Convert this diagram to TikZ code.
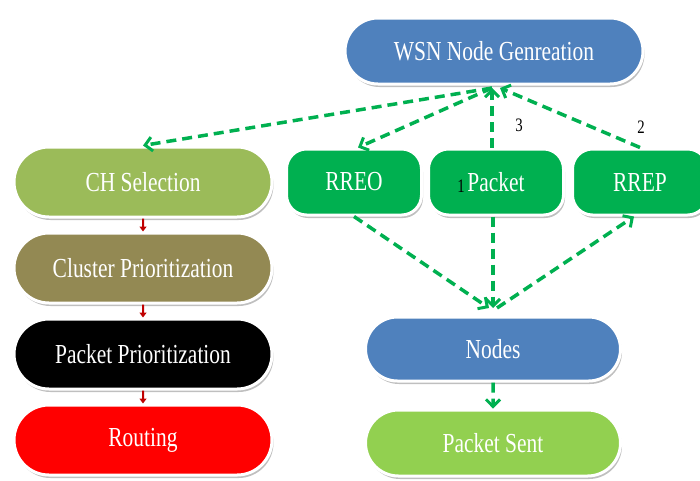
\documentclass[tikz,border=0pt]{standalone}
\usepackage{fontspec}
\setmainfont{Liberation Serif}[FakeStretch=0.78]
\usepackage{tikz}
\usetikzlibrary{shapes.misc,shadows,arrows.meta,positioning}

\definecolor{wsnblue}{HTML}{4F81BD}
\definecolor{rgreen}{HTML}{00B050}
\definecolor{chgreen}{HTML}{9BBB59}
\definecolor{clolive}{HTML}{938953}
\definecolor{sentgreen}{HTML}{92D050}
\definecolor{linkred}{HTML}{C00000}

\begin{document}
\begin{tikzpicture}[x=1pt, y=-1pt,
  pill/.style={rounded rectangle, draw=white, line width=3pt,
    text=white, minimum height=66pt, inner sep=0pt,
    font=\fontsize{27.5}{30}\selectfont,
    drop shadow={shadow xshift=1.5pt, shadow yshift=-3pt, fill=black, opacity=0.25}},
  rbox/.style={rectangle, rounded corners=20pt, draw=white, line width=3pt,
    fill=rgreen, text=white, minimum width=135pt, minimum height=66pt,
    font=\fontsize{27.5}{30}\selectfont,
    drop shadow={shadow xshift=1.5pt, shadow yshift=-3pt, fill=black, opacity=0.25}},
  flow/.style={draw=rgreen, line width=3.5pt, dash pattern=on 10pt off 6pt,
    -{Straight Barb[length=7pt,width=14pt,line width=3pt]}},
  redlink/.style={draw=linkred, line width=2pt, -{Triangle[length=5pt,width=7pt]}},
  num/.style={font=\fontsize{19}{20}\selectfont, text=black},
  node distance=13pt]

\useasboundingbox (0,0) rectangle (700,480);

% top and right part
\node[pill, fill=wsnblue, minimum width=298pt] (wsn) at (494,51) {WSN Node Genreation};
\node[rbox] (rreo) at (354,182) {RREO};
\node[rbox] (packet) at (496,182) {Packet};
\node[rbox] (rrep) at (640,182) {RREP};
\node[pill, fill=wsnblue, minimum width=255pt, minimum height=64pt] (nodes) at (493,349) {Nodes};
\node[pill, fill=sentgreen, minimum width=255pt] (sent) at (493,443) {Packet Sent};

% left column
\node[pill, fill=chgreen, minimum width=258pt, minimum height=70pt] (ch) at (143,182) {CH Selection};
\node[pill, fill=clolive, minimum width=258pt, minimum height=70pt] (cluster) [below = of ch] {Cluster Prioritization};
\node[pill, fill=black, minimum width=258pt, minimum height=70pt] (pprio) [below = of cluster] {Packet Prioritization};
\node[pill, fill=red, minimum width=258pt, minimum height=70pt] (routing) [below = of pprio] {Routing};

\draw[redlink] (ch) -- (cluster);
\draw[redlink] (cluster) -- (pprio);
\draw[redlink] (pprio) -- (routing);

% dashed links
\coordinate (hub) at (492,88);
\coordinate (ntop) at (493,308);
\draw[flow] (hub) -- (ch.north);
\draw[flow] (hub) -- ([xshift=4pt]rreo.north);
\draw[flow] (packet.north -| hub) -- (hub);
\draw[flow] (rrep.north) -- ([xshift=8pt]hub);
\draw[flow] (rreo.south) -- ([xshift=-4pt]ntop);
\draw[flow] (packet.south -| ntop) -- (ntop);
\draw[flow] ([xshift=4pt]ntop) -- ([xshift=-6pt]rrep.south);
\draw[flow] (nodes) -- (sent);

\node[num] (n3) at (519,125) {3};
\node[num] (n2) at (641,127) {2};
\node[num] (n1) at (461,186) {1};
\end{tikzpicture}
\end{document}
